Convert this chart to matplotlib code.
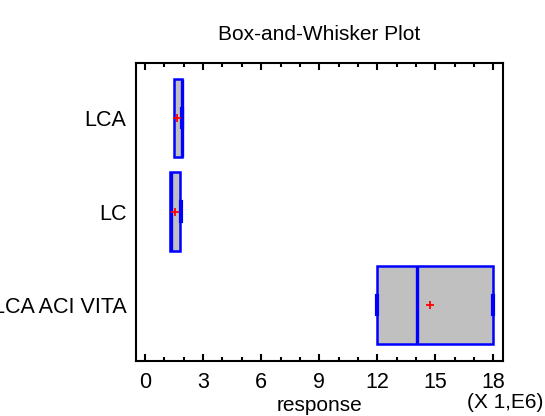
import matplotlib
matplotlib.use("Agg")
import matplotlib.pyplot as plt
from matplotlib.ticker import MultipleLocator

plt.rcParams['font.family'] = ['Liberation Sans', 'DejaVu Sans']

# samples, top to bottom; response in units of 1E6
labels = ["LCA", "LC", "LCA ACI VITA"]
mins = [1.47, 1.30, 12.0]
q1s = [1.47, 1.30, 12.0]
medians = [1.90, 1.32, 14.03]
q3s = [1.92, 1.80, 18.0]
maxs = [1.93, 1.86, 18.0]
means = [1.63, 1.55, 14.73]

stats = []
for lab, lo, a, m, b, hi, mu in zip(labels, mins, q1s, medians, q3s, maxs, means):
    stats.append(dict(label=lab, whislo=lo, q1=a, med=m, q3=b, whishi=hi, mean=mu, fliers=[]))

fig = plt.figure(figsize=(5.45, 4.16), dpi=100)
ax = fig.add_axes([136 / 545, 1 - 361 / 416, 367 / 545, 298 / 416])

parts = ax.bxp(stats, positions=range(len(stats)), widths=0.84, orientation='horizontal',
               patch_artist=True, showcaps=True, capwidths=0.2, showmeans=True, manage_ticks=False,
               boxprops=dict(facecolor='#c0c0c0', edgecolor='#0000ff', linewidth=1.8),
               whiskerprops=dict(color='#0000ff', linewidth=2),
               capprops=dict(color='#0000ff', linewidth=3),
               medianprops=dict(color='#0000ff', linewidth=2.4),
               meanprops=dict(marker='+', markeredgecolor='#ff0000', markersize=6, markeredgewidth=1.3))

# lower caps sit on the box edge for the two narrow samples
for i in range(2):
    parts['caps'][2 * i].set_visible(False)

ax.set_xlim(-0.47, 18.5)
ax.set_ylim(2.6, -0.59)
ax.set_yticks(range(len(labels)))
ax.set_yticklabels(labels)

ax.xaxis.set_major_locator(MultipleLocator(3))
ax.xaxis.set_minor_locator(MultipleLocator(1))
ax.tick_params(axis='x', which='both', direction='in', top=True, bottom=True, width=1.5)
ax.tick_params(axis='x', which='major', length=5, labelsize=15.5, pad=8)
ax.tick_params(axis='x', which='minor', length=3)
ax.tick_params(axis='y', length=0, labelsize=15.5, pad=7)

for s in ax.spines.values():
    s.set_linewidth(1.5)

ax.set_xlabel("response", fontsize=15, labelpad=2)
fig.text(0.5 * (136 + 503) / 545, 1 - 35 / 416, "Box-and-Whisker Plot",
         ha='center', va='center', fontsize=15)
fig.text(543 / 545, 1 - 402 / 416, "(X 1,E6)", ha='right', va='center', fontsize=15)

fig.savefig("out.png", dpi=100)
